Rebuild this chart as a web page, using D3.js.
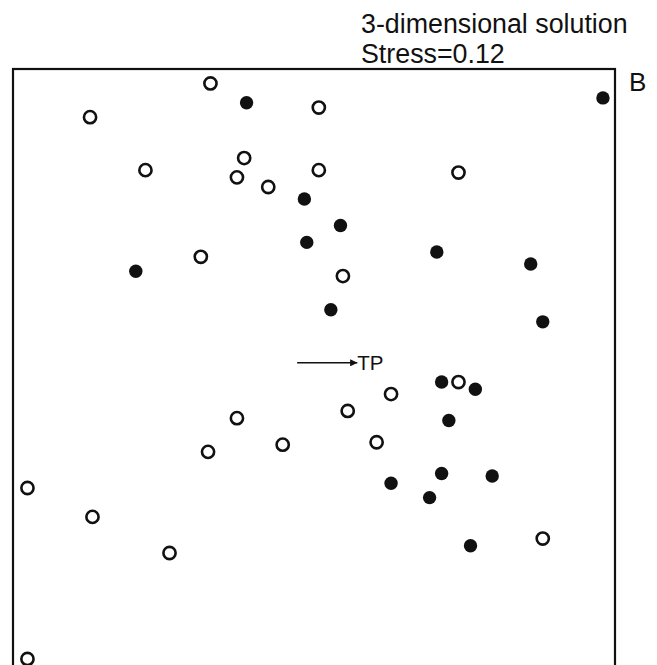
<!DOCTYPE html>
<html>
<head>
<meta charset="utf-8">
<script src="https://cdn.jsdelivr.net/npm/d3@7"></script>
<style>
  body { margin: 0; background: #fff; }
  svg text { font-family: "Liberation Sans", Arial, sans-serif; fill: #111; }
</style>
</head>
<body>
<div id="chart"></div>
<script>
// NMDS site scores (dim 1, dim 2)
var openSites = [
  [-0.43, 1.19], [0.02, 1.09], [-0.93, 1.05], [-0.29, 0.88], [-0.70, 0.83],
  [-0.32, 0.80], [0.02, 0.83], [-0.19, 0.76], [0.60, 0.82], [-0.47, 0.47],
  [0.12, 0.39], [0.60, -0.05], [0.32, -0.10], [0.14, -0.17], [-0.32, -0.20],
  [0.26, -0.30], [-0.13, -0.31], [-0.44, -0.34], [-1.19, -0.49], [-0.92, -0.61],
  [-0.60, -0.76], [0.95, -0.70], [-1.19, -1.20]
];
var filledSites = [
  [-0.28, 1.11], [1.20, 1.13], [-0.04, 0.71], [0.11, 0.60], [-0.03, 0.53],
  [-0.74, 0.41], [0.51, 0.49], [0.90, 0.44], [0.07, 0.25], [0.95, 0.20],
  [0.53, -0.05], [0.67, -0.08], [0.56, -0.21], [0.53, -0.43], [0.74, -0.44],
  [0.32, -0.47], [0.48, -0.53], [0.65, -0.73]
];
// environmental vector
var tpVector = { name: "TP", from: [-0.07, 0.03], to: [0.18, 0.03] };
var titleLines = ["3-dimensional solution", "Stress=0.12"];
var panelLabel = "B";

var width = 657, height = 665;
var box = { left: 13, top: 69, size: 602 };

var svg = d3.select("#chart").append("svg")
  .attr("width", width)
  .attr("height", height);

svg.append("defs").append("marker")
  .attr("id", "arrow")
  .attr("viewBox", "0 0 10 10")
  .attr("refX", 10)
  .attr("refY", 5)
  .attr("markerWidth", 4.5)
  .attr("markerHeight", 4.5)
  .attr("orient", "auto")
  .append("path")
  .attr("d", "M0,0 L10,5 L0,10 Z")
  .attr("fill", "#111");

var x = d3.scaleLinear().domain([-1.25, 1.25]).range([box.left, box.left + box.size]);
var y = d3.scaleLinear().domain([1.25, -1.25]).range([box.top, box.top + box.size]);

// frame
svg.append("rect")
  .attr("x", box.left)
  .attr("y", box.top)
  .attr("width", box.size)
  .attr("height", box.size)
  .attr("fill", "none")
  .attr("stroke", "#111")
  .attr("stroke-width", 2.2);

svg.selectAll(".title")
  .data(titleLines)
  .enter()
  .append("text")
  .attr("class", "title")
  .attr("x", 361)
  .attr("y", (d, i) => 33 + i * 30)
  .attr("font-size", 26.8)
  .text(d => d);

svg.append("text")
  .attr("x", 629)
  .attr("y", 91)
  .attr("font-size", 26)
  .text(panelLabel);

// TP arrow
svg.append("line")
  .attr("x1", x(tpVector.from[0]))
  .attr("y1", y(tpVector.from[1]))
  .attr("x2", x(tpVector.to[0]))
  .attr("y2", y(tpVector.to[1]))
  .attr("stroke", "#111")
  .attr("stroke-width", 1.6)
  .attr("marker-end", "url(#arrow)");

svg.append("text")
  .attr("x", x(tpVector.to[0]))
  .attr("y", y(tpVector.to[1]) + 7)
  .attr("font-size", 20.5)
  .text(tpVector.name);

svg.selectAll(".open")
  .data(openSites)
  .enter()
  .append("circle")
  .attr("class", "open")
  .attr("cx", d => x(d[0]))
  .attr("cy", d => y(d[1]))
  .attr("r", 6.1)
  .attr("fill", "#fff")
  .attr("stroke", "#111")
  .attr("stroke-width", 2.6);

svg.selectAll(".filled")
  .data(filledSites)
  .enter()
  .append("circle")
  .attr("class", "filled")
  .attr("cx", d => x(d[0]))
  .attr("cy", d => y(d[1]))
  .attr("r", 6.7)
  .attr("fill", "#111");
</script>
</body>
</html>
